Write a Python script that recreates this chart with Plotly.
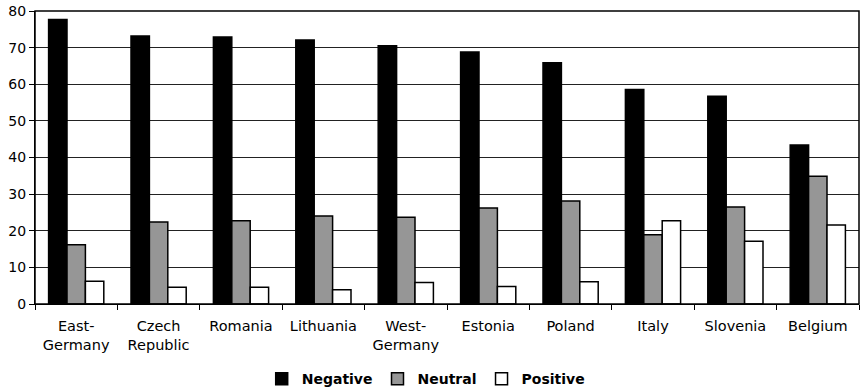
import plotly.graph_objects as go

countries = ["East-<br>Germany", "Czech<br>Republic", "Romania", "Lithuania", "West-<br>Germany",
             "Estonia", "Poland", "Italy", "Slovenia", "Belgium"]
negative = [77.7, 73.2, 72.9, 72.1, 70.5, 68.8, 65.9, 58.6, 56.7, 43.4]
neutral = [16.2, 22.4, 22.7, 24.0, 23.7, 26.2, 28.1, 18.9, 26.5, 34.9]
positive = [6.2, 4.6, 4.6, 3.9, 5.9, 4.8, 6.1, 22.7, 17.1, 21.6]
y_ticks = [0, 10, 20, 30, 40, 50, 60, 70, 80]

series = [("Negative", negative, "#000000"),
          ("Neutral", neutral, "#969696"),
          ("Positive", positive, "#ffffff")]

fig = go.Figure()
for name, vals, color in series:
    fig.add_trace(go.Bar(x=countries, y=vals, name=name,
                         marker=dict(color=color, line=dict(color="#000000", width=1.5))))

fig.update_layout(
    width=860, height=390,
    margin=dict(l=35, r=1, t=11, b=86),
    paper_bgcolor="white", plot_bgcolor="white",
    barmode="group", bargap=0.33, bargroupgap=0,
    font=dict(family="DejaVu Sans", size=14, color="black"),
    showlegend=True,
    legend=dict(orientation="h", xref="container", x=0.495, xanchor="center",
                yref="container", y=0.028, yanchor="middle",
                font=dict(family="DejaVu Sans", size=14, color="black", weight="bold"),
                traceorder="normal", itemwidth=30),
    xaxis=dict(type="category", tickson="boundaries", ticks="outside", ticklen=5,
               tickcolor="black", showline=True, linecolor="black", linewidth=1,
               showgrid=False, tickfont=dict(size=14.5), ticklabelstandoff=9, mirror=False),
    yaxis=dict(range=[0, 80], tickvals=y_ticks, ticks="outside", ticklen=5,
               tickcolor="black", showline=True, linecolor="black", linewidth=1,
               showgrid=True, gridcolor="#222222", gridwidth=1, zeroline=False,
               tickfont=dict(size=14)),
)
fig.add_shape(type="rect", xref="paper", yref="paper", x0=0, x1=1, y0=0, y1=1,
              line=dict(color="black", width=1.5), layer="above")

fig.write_html("out.html", config={"displayModeBar": False},
               post_script="document.body.style.margin='0';document.body.style.overflow='hidden';")
